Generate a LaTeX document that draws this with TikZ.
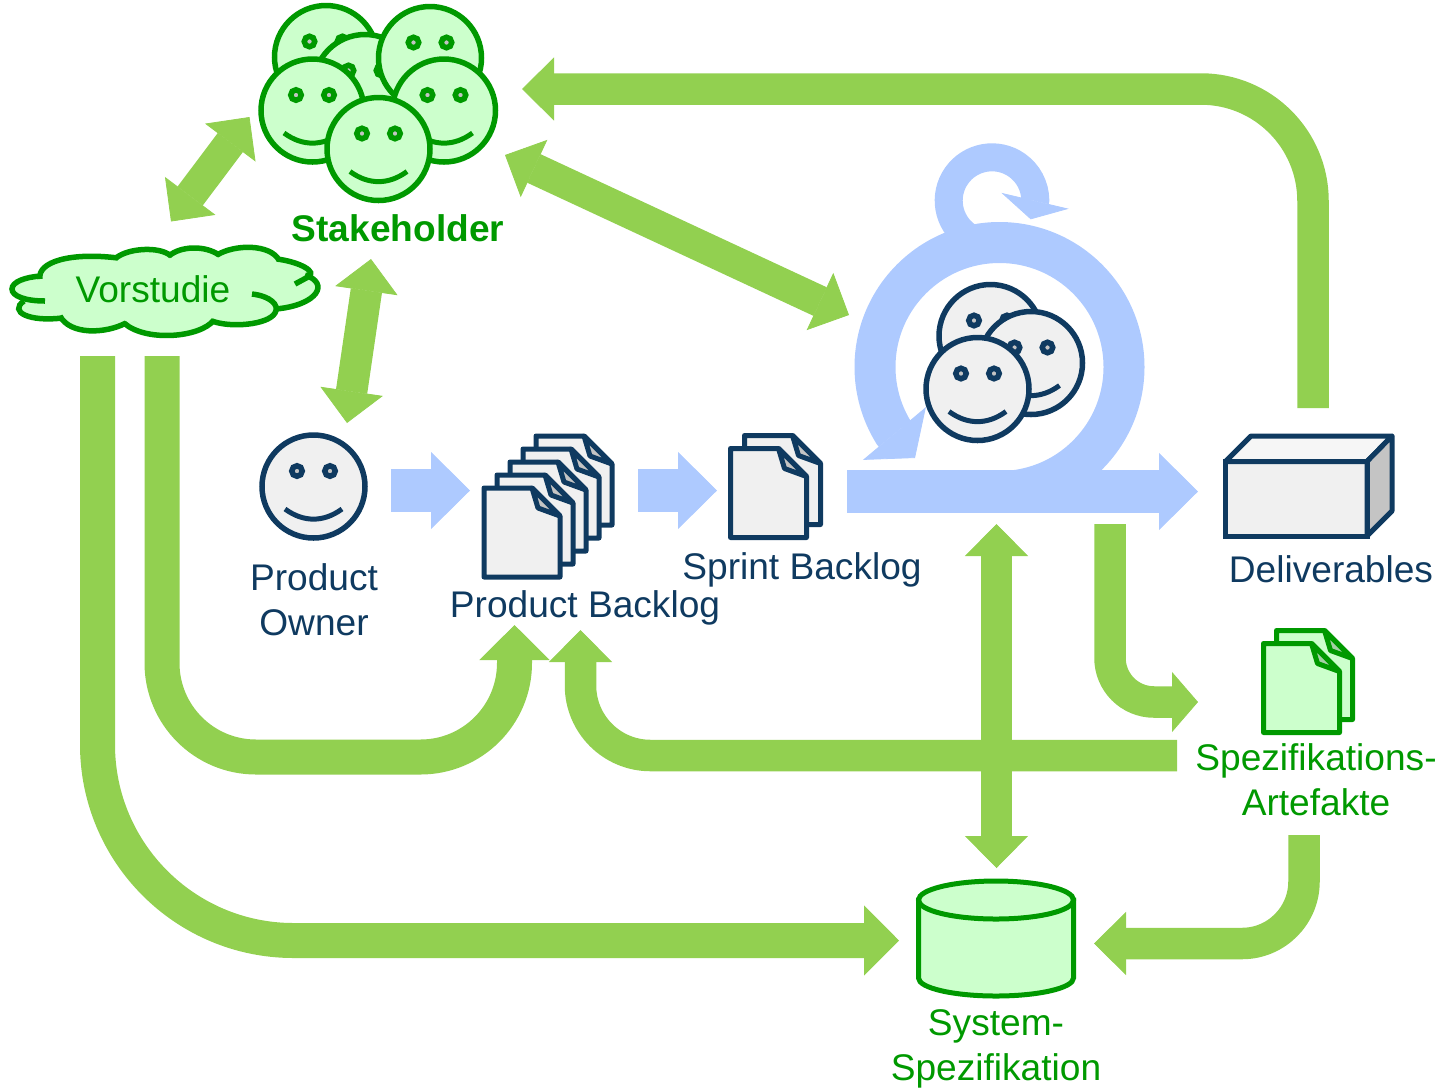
\documentclass[tikz,border=0pt]{standalone}
\usepackage{fontspec}
\setmainfont{Liberation Sans}
\usepackage{tikz}
\usetikzlibrary{calc,positioning,arrows.meta}
\definecolor{flowgreen}{HTML}{92D050}
\definecolor{flowblue}{HTML}{AECAFF}
\definecolor{navy}{HTML}{0F3A60}
\definecolor{navyfill}{HTML}{F0F0F0}
\definecolor{navyfold}{HTML}{C4C4C4}
\definecolor{leaf}{HTML}{009900}
\definecolor{leaffill}{HTML}{CCFFCC}
\definecolor{leaffold}{HTML}{A6D0A6}
\tikzset{
  wideflow/.style={
    draw=flowgreen,
    line width=17.5pt},
  narrowflow/.style={
    draw=flowgreen,
    line width=15.75pt},
  blueflow/.style={
    draw=flowblue,
    line width=21.25pt,
    -{Triangle[length=19.5pt,width=38.5pt,line width=.4pt]}},
  widetip/.tip={Triangle[length=17.5pt,width=35pt,line width=.4pt]},
  narrowtip/.tip={Triangle[length=16pt,width=31.5pt,line width=.4pt]},
  caption/.style={
    font=\fontsize{18.55}{22.5}\selectfont,
    align=center,
    inner sep=0pt},
  cloudline/.style={
    draw=leaf,
    line width=2.75pt},
  pics/smiley/.style 2 args={code={
    \draw[line width=2.75pt, draw=#1, fill=#2] (0,0) circle[radius=51.5];
    \draw[line width=2.75pt, draw=#1, fill=navyfold] (-16.5,-15.5) circle[radius=5.25];
    \draw[line width=2.75pt, draw=#1, fill=navyfold] (16.5,-15.5) circle[radius=5.25];
    \draw[line width=2.5pt, draw=#1] (-28.5,22.5) .. controls (-10,36) and (10,36) .. (28.5,22.5);
  }},
  pics/sheet/.style n args={3}{code={
    \draw[line width=2.5pt, line join=round, draw=#1, fill=#2] (0,0) -- (48,0) -- (76,28) -- (76,89) -- (0,89) -- cycle;
    \draw[line width=2.5pt, line join=round, draw=#1, fill=#3] (48,0) -- (54,20) -- (76,28) -- cycle;
  }},
}
\begin{document}
\begin{tikzpicture}[x=.5pt,y=-.5pt]
     \useasboundingbox (0,0) rectangle (1451,1089);

     \coordinate (delivout) at (1313,408);
     \coordinate (delivturn) at (1313,89);
     \coordinate (stakein) at (522,89);
     \coordinate (stakevor) at (249.5,117);
     \coordinate (vorstake) at (171,221.5);
     \coordinate (stakeown) at (371,259);
     \coordinate (ownstake) at (347,423);
     \coordinate (staketeam) at (505,155);
     \coordinate (teamstake) at (849,315);
     \coordinate (vorout1) at (97.5,356);
     \coordinate (vorturn1) at (97.5,940.5);
     \coordinate (sysin1) at (899,940.5);
     \coordinate (vorout2) at (162,356);
     \coordinate (vorturn2) at (162,757);
     \coordinate (prodturn1) at (514.5,757);
     \coordinate (prodin1) at (514.5,625);
     \coordinate (specout1) at (1177,755.5);
     \coordinate (prodturn2) at (580.5,755.5);
     \coordinate (prodin2) at (580.5,630);
     \coordinate (sprintdown) at (996.5,524);
     \coordinate (sysup) at (996.5,868);
     \coordinate (mainout) at (1110,524);
     \coordinate (mainturn) at (1110,702);
     \coordinate (specin) at (1198,702);
     \coordinate (specout2) at (1304,835);
     \coordinate (specturn) at (1304,943.5);
     \coordinate (sysin2) at (1094,943.5);
     \coordinate (ownout) at (391,490.5);
     \coordinate (prodin) at (470,490.5);
     \coordinate (prodout) at (638,490.5);
     \coordinate (sprintin) at (717,490.5);
     \coordinate (mainstart) at (847,491.5);
     \coordinate (mainend) at (1198,491.5);
     \coordinate (ringstart) at (999.5,491.5);
     \coordinate (ringtip) at (915,458);
     \coordinate (loopstart) at ($(992,200.6)+(125:43.3 and 43.3)$);
     \coordinate (looptip) at (1030.7,219.3);

     \draw[narrowflow,rounded corners=56pt,-narrowtip] (delivout) -- (delivturn) -- (stakein);
     \draw[narrowflow,narrowtip-narrowtip] (stakevor) -- (vorstake);
     \draw[narrowflow,narrowtip-narrowtip] (stakeown) -- (ownstake);
     \draw[narrowflow,narrowtip-narrowtip] (staketeam) -- (teamstake);
     \draw[wideflow,rounded corners=98pt,-widetip] (vorout1) -- (vorturn1) -- (sysin1);
     \draw[wideflow,rounded corners=47pt,-widetip] (vorout2) -- (vorturn2) -- (prodturn1) -- (prodin1);
     \draw[narrowflow,rounded corners=35pt,-narrowtip] (specout1) -- (prodturn2) -- (prodin2);
     \draw[narrowflow,narrowtip-narrowtip] (sprintdown) -- (sysup);
     \draw[narrowflow,rounded corners=22pt,-{Triangle[length=13pt,width=30pt,line width=.4pt]}] (mainout) -- (mainturn) -- (specin);
     \draw[narrowflow,rounded corners=31pt,-narrowtip] (specout2) -- (specturn) -- (sysin2);

     \draw[blueflow] (ownout) -- (prodin);
     \draw[blueflow] (prodout) -- (sprintin);
     \draw[blueflow] (mainstart) -- (mainend);
     \draw[draw=flowblue,line width=20.5pt,-{Triangle[length=16pt,width=41pt,line width=.4pt]}] (ringstart) arc[radius=124.5,start angle=90,end angle=-211.8] -- (ringtip);
     \draw[draw=flowblue,line width=14pt,-{Triangle[length=9.5pt,width=34.5pt,line width=.4pt]}] (loopstart) arc[radius=43.3,start angle=125,end angle=359] -- (looptip);

     \pic (stake1) at (326,57) {smiley={leaf}{leaffill}};
     \pic (stake2) at (365,86) {smiley={leaf}{leaffill}};
     \pic (stake3) at (430,58) {smiley={leaf}{leaffill}};
     \pic (stake4) at (312.5,110.5) {smiley={leaf}{leaffill}};
     \pic (stake5) at (444,110.5) {smiley={leaf}{leaffill}};
     \pic (stake6) at (378.5,149) {smiley={leaf}{leaffill}};
     \node[caption,text=leaf,font=\fontsize{18.55}{22.5}\selectfont\bfseries] (stakeholder) at (398,228) {Stakeholder};

     \fill[leaffill] (40,276) .. controls (37,262) and (70,252) .. (118,257) .. controls (128,248) and (160,246) .. (170,255) .. controls (180,246) and (205,245) .. (218,254) .. controls (235,244) and (270,244) .. (279,259) .. controls (300,262) and (318,272) .. (308,277) .. controls (330,283) and (318,305) .. (276,309) .. controls (268,325) and (230,328) .. (213,322) .. controls (200,338) and (145,342) .. (125,324) .. controls (105,334) and (70,335) .. (60,318) .. controls (30,322) and (8,312) .. (23,301) .. controls (10,296) and (8,282) .. (40,276) -- cycle;
     \draw[cloudline] (45,301) .. controls (25,301) and (12,296) .. (12,289) .. controls (12,282) and (25,277) .. (41,276);
     \draw[cloudline] (40,279) .. controls (37,262) and (70,252) .. (118,258);
     \draw[cloudline] (116,258) .. controls (128,248) and (160,246) .. (171,256);
     \draw[cloudline] (169,256) .. controls (180,246) and (205,245) .. (219,255);
     \draw[cloudline] (217,255) .. controls (235,244) and (270,244) .. (279,260);
     \draw[cloudline] (277,259) .. controls (300,262) and (318,272) .. (308,277) -- (295,284);
     \draw[cloudline] (305,275) .. controls (330,283) and (318,305) .. (276,309);
     \draw[cloudline] (252,294) .. controls (270,296) and (280,305) .. (275,313) .. controls (268,325) and (230,328) .. (212,321);
     \draw[cloudline] (214,320) .. controls (200,338) and (145,342) .. (124,323);
     \draw[cloudline] (126,323) .. controls (105,334) and (70,335) .. (60,316);
     \draw[cloudline] (62,318) .. controls (30,322) and (8,312) .. (24,301);
     \node[caption,text=leaf] (vorstudie) at (153,289) {Vorstudie};

     \pic (owner) at (313.5,486.5) {smiley={navy}{navyfill}};
     \node[caption,text=navy] (ownerlabel) at (314,599.5) {Product\\Owner};

     \pic (prod5) at (536,436) {sheet={navy}{navyfill}{navyfold}};
     \pic (prod4) at (523,449) {sheet={navy}{navyfill}{navyfold}};
     \pic (prod3) at (510,462) {sheet={navy}{navyfill}{navyfold}};
     \pic (prod2) at (497,475) {sheet={navy}{navyfill}{navyfold}};
     \pic (prod1) at (484,488) {sheet={navy}{navyfill}{navyfold}};
     \node[caption,text=navy] (prodlabel) at (585,608) {Product Backlog};

     \pic (sprint2) at (744.5,435.5) {sheet={navy}{navyfill}{navyfold}};
     \pic (sprint1) at (730.5,448.5) {sheet={navy}{navyfill}{navyfold}};
     \node[caption,text=navy] (sprintlabel) at (802,569.5) {Sprint Backlog};

     \pic (team1) at (990.5,336) {smiley={navy}{navyfill}};
     \pic (team2) at (1031,363) {smiley={navy}{navyfill}};
     \pic (team3) at (977.5,389) {smiley={navy}{navyfill}};

     \fill[navyfill] (1225.5,461.5) rectangle (1367,536);
     \draw[line width=2.5pt,draw=navy,line join=round,fill=navyfill!60!white] (1225.5,461.5) -- (1251,436) -- (1392,436) -- (1367,461.5) -- cycle;
     \draw[line width=2.5pt,draw=navy,line join=round,fill=navyfold] (1367,461.5) -- (1392,436) -- (1392,511) -- (1367,536) -- cycle;
     \draw[line width=2.5pt,draw=navy] (1225.5,461.5) rectangle (1367,536);
     \node[caption,text=navy] (delivlabel) at (1331,569.5) {Deliverables};

     \pic (spec2) at (1276.5,630.5) {sheet={leaf}{leaffill}{leaffold}};
     \pic (spec1) at (1263.5,643.5) {sheet={leaf}{leaffill}{leaffold}};
     \node[caption,text=leaf] (speclabel) at (1316,779.5) {Spezifikations-\\Artefakte};

     \draw[line width=2.5pt,draw=leaf,fill=leaffill] (918.5,900) -- (918.5,978) arc[x radius=77.5,y radius=18,start angle=180,end angle=0] -- (1073.5,900) -- cycle;
     \draw[line width=2.5pt,draw=leaf,fill=leaffill] (996,900) ellipse[x radius=77.5,y radius=19];
     \node[caption,text=leaf] (syslabel) at (996,1049) {System-\\Spezifikation};
\end{tikzpicture}
\end{document}
